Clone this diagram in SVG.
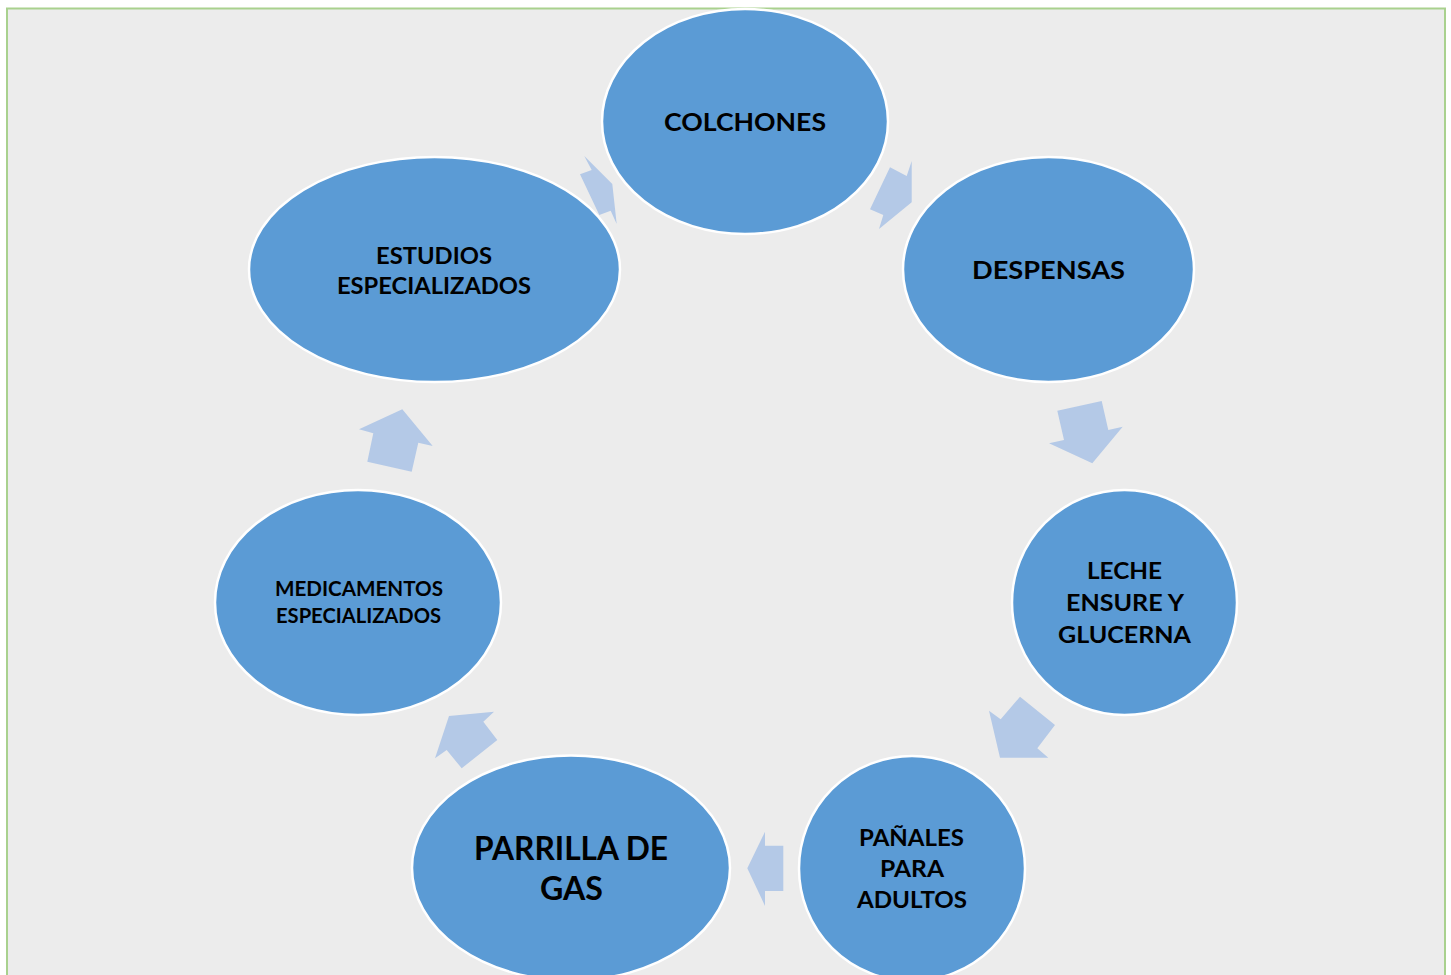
<svg xmlns="http://www.w3.org/2000/svg" width="1451" height="975" viewBox="0 0 1451 975">
<style>
.node ellipse{fill:#5b9bd5;stroke:#ffffff;stroke-width:2.5}
.node text{font-family:Lato,"Open Sans","Liberation Sans",sans-serif;font-weight:bold;fill:#000000;text-anchor:middle}
.arr polygon{fill:#b4c9e7;stroke:none}
</style>
<rect x="0" y="0" width="1451" height="975" fill="#ffffff"/>
<rect x="7" y="8.5" width="1438" height="980" fill="#ececec" stroke="#a9d18e" stroke-width="2"/>
<g id="connectors" class="arr">
<polygon points="584.3,156 612.3,184 616.7,224 610.7,210.7 599.3,215 580,174.3 591.7,170"/>
<polygon points="911.7,161 906.7,176 890,167.3 870,209.3 883.3,215 879,229 911.7,202.3"/>
<polygon points="1057.3,410.7 1101.7,401 1108.3,430 1122.7,426.7 1092.3,463.3 1049,443.3 1064,440"/>
<polygon points="1020,696.7 1055,725 1037.3,748.3 1048.3,757.7 1000,757.7 989,710.7 1000.7,719.3"/>
<polygon points="765,831.7 765,845.7 783.3,845.7 783.3,891 765,891 765,906 747.3,868.3"/>
<polygon points="449,716 494,711.7 483.3,721.7 497.3,740 461.7,768.3 446.7,750 435,758.3"/>
<polygon points="402.3,409.3 432.7,446 418.3,442.7 411.7,471.7 367.3,461.7 373.3,433.3 359,429.3"/>
</g>
<g id="colchones" class="node">
<ellipse cx="745" cy="121.5" rx="143" ry="112.5"/>
<text x="745" y="131" font-size="25" textLength="162" lengthAdjust="spacingAndGlyphs">COLCHONES</text>
</g>
<g id="despensas" class="node">
<ellipse cx="1048.5" cy="269.5" rx="145.5" ry="112.5"/>
<text x="1048.5" y="279" font-size="25" textLength="153" lengthAdjust="spacingAndGlyphs">DESPENSAS</text>
</g>
<g id="leche" class="node">
<ellipse cx="1124.5" cy="602.5" rx="112.5" ry="112.5"/>
<text x="1124.5" y="579" font-size="23" textLength="75" lengthAdjust="spacingAndGlyphs">LECHE</text>
<text x="1125" y="611" font-size="23" textLength="118" lengthAdjust="spacingAndGlyphs">ENSURE Y</text>
<text x="1124.5" y="643" font-size="23" textLength="133" lengthAdjust="spacingAndGlyphs">GLUCERNA</text>
</g>
<g id="panales" class="node">
<ellipse cx="912" cy="868.5" rx="113" ry="112.5"/>
<text x="911.5" y="846" font-size="23" textLength="105" lengthAdjust="spacingAndGlyphs">PAÑALES</text>
<text x="912" y="877" font-size="23" textLength="64" lengthAdjust="spacingAndGlyphs">PARA</text>
<text x="912" y="908" font-size="23" textLength="110" lengthAdjust="spacingAndGlyphs">ADULTOS</text>
</g>
<g id="parrilla" class="node">
<ellipse cx="571" cy="868" rx="159" ry="112.5"/>
<text x="571" y="860" font-size="32" textLength="194" lengthAdjust="spacingAndGlyphs">PARRILLA DE</text>
<text x="571.5" y="900" font-size="32" textLength="63" lengthAdjust="spacingAndGlyphs">GAS</text>
</g>
<g id="medicamentos" class="node">
<ellipse cx="358" cy="602.5" rx="143" ry="112.5"/>
<text x="359" y="596" font-size="20" textLength="168" lengthAdjust="spacingAndGlyphs">MEDICAMENTOS</text>
<text x="358.5" y="623" font-size="20" textLength="165" lengthAdjust="spacingAndGlyphs">ESPECIALIZADOS</text>
</g>
<g id="estudios" class="node">
<ellipse cx="434.5" cy="269.5" rx="185.5" ry="112.5"/>
<text x="434" y="264" font-size="23" textLength="116" lengthAdjust="spacingAndGlyphs">ESTUDIOS</text>
<text x="434" y="294" font-size="23" textLength="194" lengthAdjust="spacingAndGlyphs">ESPECIALIZADOS</text>
</g>
</svg>
